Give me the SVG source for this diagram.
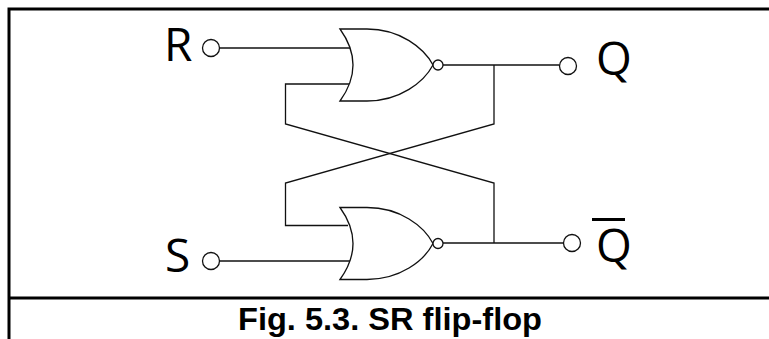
<svg xmlns="http://www.w3.org/2000/svg" width="769" height="339" viewBox="0 0 769 339">
<style>
.w{fill:none;stroke:#111;stroke-width:1.3;stroke-linejoin:miter}
.g{fill:#fff;stroke:#111;stroke-width:1.3}
.frame{fill:none;stroke:#000;stroke-width:3}
.lbl{font-family:"Open Sans","Noto Sans",sans-serif;font-size:46px;fill:#000}
.cap{font-family:"Liberation Sans",Arial,sans-serif;font-size:31px;font-weight:bold;fill:#000}
</style>
<rect width="769" height="339" fill="#fff"/>
<g id="frame">
<path class="frame" d="M769,9 H9 V339 M9,298 H769"/>
</g>
<g id="connectors">
<path class="w" d="M220,48 H351"/>
<path class="w" d="M220,261 H351"/>
<path class="w" d="M349,84 H285.5 V124 L494,183 V243"/>
<path class="w" d="M348,225.5 H285.5 V183 L494,124 V65"/>
<path class="w" d="M443,65 H559.5"/>
<path class="w" d="M443,243 H563.5"/>
</g>
<g id="gate-top">
<path class="g" d="M340,29 L367,29 C400,29 424,48 433,65 C424,82 400,101 367,101 L340,101 Q366,65 340,29 Z"/>
<circle class="g" cx="438" cy="65" r="5"/>
</g>
<g id="gate-bottom">
<path class="g" d="M340,207.5 L367,207.5 C400,207.5 424,226 433,243.5 C424,261 400,279.5 367,279.5 L340,279.5 Q366,243.5 340,207.5 Z"/>
<circle class="g" cx="438" cy="243.5" r="5"/>
</g>
<g id="input-R">
<circle class="g" cx="211" cy="48" r="8.5"/>
<text class="lbl" x="164" y="61">R</text>
</g>
<g id="input-S">
<circle class="g" cx="211" cy="261" r="8.5"/>
<text class="lbl" x="165" y="272">S</text>
</g>
<g id="output-Q">
<circle class="g" cx="568" cy="66" r="8.5"/>
<text class="lbl" x="596" y="75">Q</text>
</g>
<g id="output-Qbar">
<circle class="g" cx="572" cy="243" r="8.5"/>
<text class="lbl" x="596" y="262">Q</text>
<rect x="592" y="218" width="33" height="3" fill="#000"/>
</g>
<g id="caption">
<text class="cap" x="238" y="330" textLength="304" lengthAdjust="spacingAndGlyphs">Fig. 5.3. SR flip-flop</text>
</g>
</svg>
